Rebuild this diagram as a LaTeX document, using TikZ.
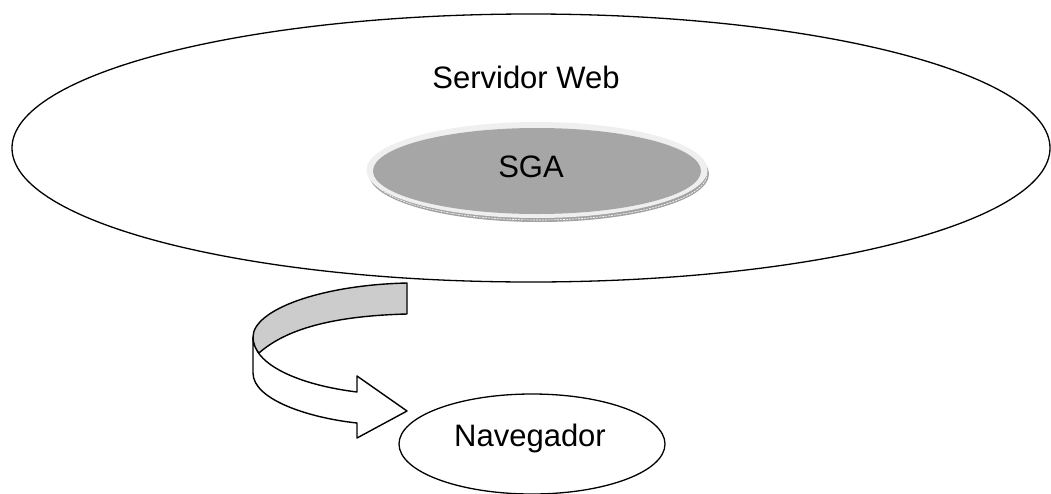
\documentclass[tikz,border=0pt]{standalone}
\usepackage{fontspec}
\setmainfont{Liberation Sans}
\usepackage{xcolor}
\usepackage{tikz}
\usetikzlibrary{shapes.geometric, calc}

\definecolor{sgagray}{HTML}{A6A6A6}
\definecolor{sgarimcol}{HTML}{EFEFEF}
\definecolor{sgashade}{HTML}{A3A3A3}
\definecolor{bandgray}{HTML}{CCCCCC}

\tikzset{
  plate/.style={shape=ellipse, draw, line width=1.3pt, inner sep=0pt},
  disc/.style={shape=ellipse, draw=none, inner sep=0pt},
  caption/.style={font=\fontsize{31}{37}\selectfont, anchor=base, inner sep=0pt},
  band/.style={draw, line width=1.4pt, line join=round},
}

\begin{document}
\begin{tikzpicture}[x=1pt, y=-1pt]

\useasboundingbox (0,0) rectangle (1051,493);

\node (web) [plate,minimum width=1038pt,minimum height=268pt] at (531,148) {};
\node (webtext) [caption] at (526,88) {Servidor Web};

\node (sgashadow) [disc,fill=sgashade,minimum width=340pt,minimum height=96pt] at (539,174) {};
\draw[white, line width=0.6pt, dash pattern=on 2pt off 1pt] (539,174) ellipse [x radius=168pt, y radius=46pt];
\node (sgarim) [disc,fill=sgarimcol,minimum width=341pt,minimum height=96pt] at (537,170) {};
\node (sga) [disc,fill=sgagray,minimum width=328pt,minimum height=86pt] at (537,171) {};
\node (sgatext) [caption] at (531,177) {SGA};

\node (nav) [plate,minimum width=266pt,minimum height=100pt] at (532,444) {};
\node (navtext) [caption] at (530,446) {Navegador};

% curved arrow from the server down to the browser
\coordinate (top) at (407,283);
\coordinate (fold) at (253,337);
\coordinate (foot) at (253,373);
\coordinate (tip) at (407,411);

\draw[band,fill=bandgray] (top) .. controls (320,285) and (253,310) .. (fold)
  .. controls (253,345) and (255,349) .. (259,353)
  .. controls (285,330) and (330,316) .. (407,314) -- cycle;
\draw[band,fill=white] (fold) -- (foot) .. controls (253,400) and (310,418) .. (357,423)
  -- (357,438) -- (tip) -- (357,376) -- (357,392)
  .. controls (300,385) and (253,365) .. (fold);

\end{tikzpicture}
\end{document}
